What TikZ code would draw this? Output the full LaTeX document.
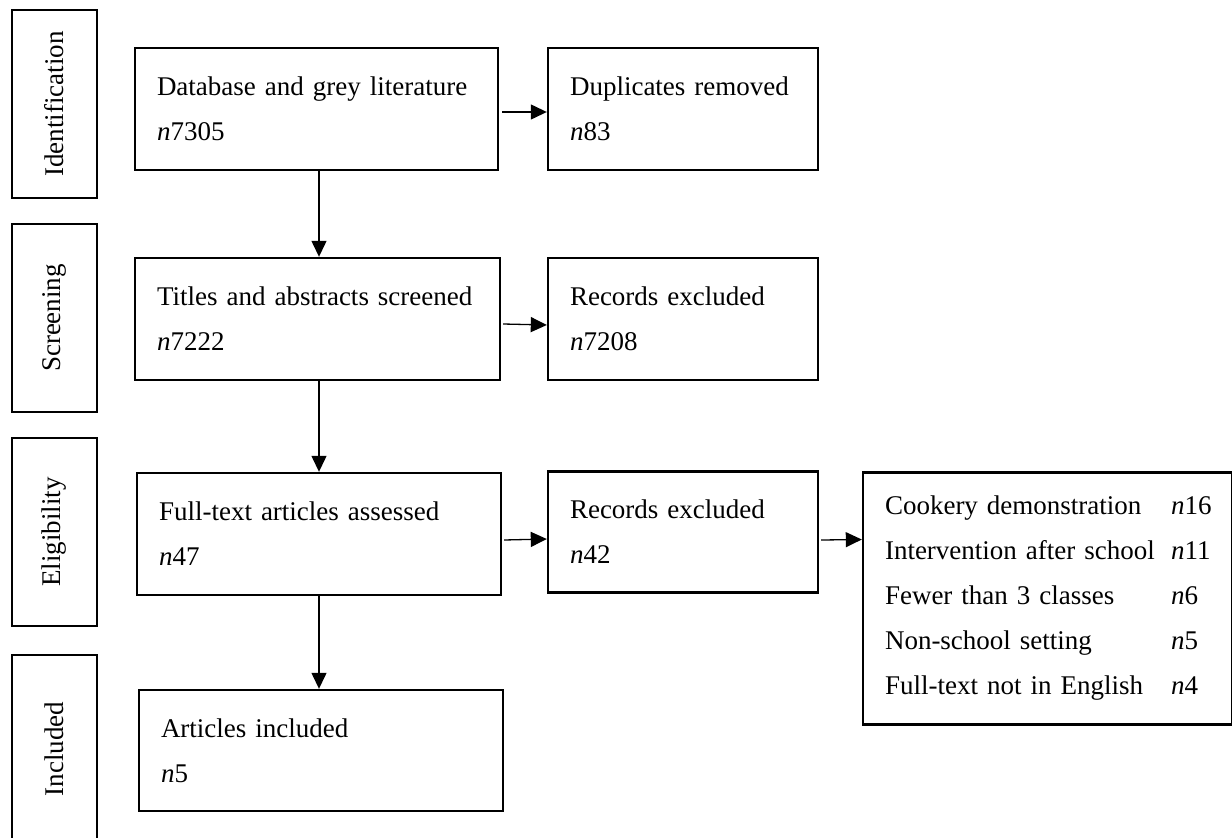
\documentclass[tikz,border=0pt]{standalone}
\usepackage{fontspec}
\setmainfont{Liberation Serif}
\usetikzlibrary{arrows.meta}
\begin{document}
\begin{tikzpicture}[x=1pt,y=-1pt,
  txt/.style={font=\fontsize{27}{45}\selectfont},
  box/.style={draw, line width=2.4pt, rectangle, inner xsep=22pt, inner ysep=0pt, align=left, txt},
  stage/.style={draw, line width=2.4pt, rectangle, inner sep=0pt, minimum width=188pt, minimum height=85pt, rotate=90, txt},
  arr/.style={line width=1.3pt, -{Triangle[length=16pt,width=15pt]}}]
\useasboundingbox (0,0) rectangle (1232,838);
\clip (0,0) rectangle (1232,838);
% stage labels
\node[stage] (sid) at (54.5,104) {Identification};
\node[stage] (sscr) at (54.5,318) {Screening};
\node[stage] (selg) at (54.5,532) {Eligibility};
\node[stage] (sinc) at (54.5,749) {Included};
% main boxes
\node[box, text width=319pt, minimum height=122pt] (db) at (316.5,109) {\mbox{Database and grey literature}\\\textit{n}7305};
\node[box, text width=226pt, minimum height=122pt] (dup) at (683,109) {\mbox{Duplicates removed}\\\textit{n}83};
\node[box, text width=321pt, minimum height=122pt] (tit) at (317.5,319) {\mbox{Titles and abstracts screened}\\\textit{n}7222};
\node[box, text width=226pt, minimum height=122pt] (rex1) at (683,319) {\mbox{Records excluded}\\\textit{n}7208};
\node[box, text width=320pt, minimum height=122pt] (ft) at (319,534) {\mbox{Full-text articles assessed}\\\textit{n}47};
\node[box, text width=226pt, minimum height=121pt] (rex2) at (683,532) {\mbox{Records excluded}\\\textit{n}42};
\node[box, text width=325pt, minimum height=252pt] (rsn) at (1047.5,598.5) {%
\makebox[286pt][l]{Cookery demonstration}\textit{n}16\\
\makebox[286pt][l]{Intervention after school}\textit{n}11\\
\makebox[286pt][l]{Fewer than 3 classes}\textit{n}6\\
\makebox[286pt][l]{Non-school setting}\textit{n}5\\
\makebox[286pt][l]{Full-text not in English}\textit{n}4};
\node[box, text width=320pt, minimum height=121pt] (inc) at (321,750.5) {\mbox{Articles included}\\\textit{n}5};
% connectors
\draw[arr] ([shift={(2.5,0)}]db.south) -- ([shift={(1.5,0)}]tit.north);
\draw[arr] ([shift={(1.5,0)}]tit.south) -- (ft.north);
\draw[arr] (ft.south) -- ([shift={(-2,0)}]inc.north);
\draw[arr] ([shift={(3,3)}]db.east) -- ([shift={(0,3)}]dup.west);
\draw[arr] ([shift={(2,5)}]tit.east) -- ([shift={(0,6)}]rex1.west);
\draw[arr] ([shift={(2,6)}]ft.east) -- ([shift={(0,7)}]rex2.west);
\draw[arr] ([shift={(2,8)}]rex2.east) -- ([shift={(0,-59)}]rsn.west);
\end{tikzpicture}
\end{document}
